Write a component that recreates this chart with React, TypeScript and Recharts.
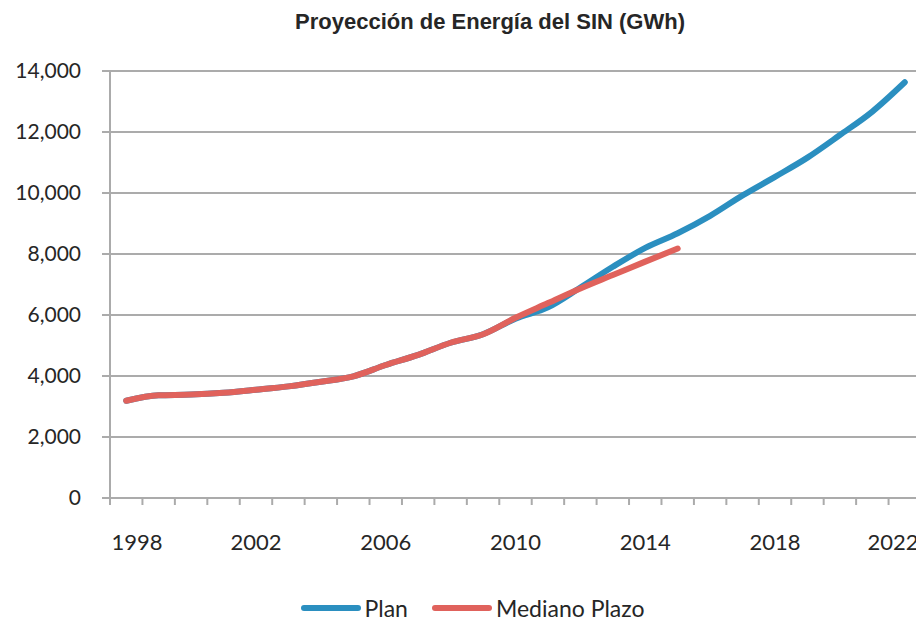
import React from "react";
import {
  LineChart,
  Line,
  XAxis,
  YAxis,
  CartesianGrid,
  Legend
} from "recharts";

const years = [
  1998, 1999, 2000, 2001, 2002, 2003, 2004, 2005, 2006, 2007, 2008, 2009, 2010,
  2011, 2012, 2013, 2014, 2015, 2016, 2017, 2018, 2019, 2020, 2021, 2022
];

const plan = [
  3190, 3370, 3390, 3450, 3550, 3660, 3810, 3990, 4360, 4690, 5090, 5370, 5880,
  6250, 6900, 7580, 8200, 8680, 9250, 9920, 10530, 11160, 11900, 12670, 13630
];

const medianoPlazo = [
  3190, 3370, 3390, 3450, 3550, 3660, 3810, 3990, 4360, 4690, 5090, 5370, 5910,
  6390, 6870, 7310, 7750, 8180
];

const labelYears = [1998, 2002, 2006, 2010, 2014, 2018, 2022];
const yTicks = [0, 2000, 4000, 6000, 8000, 10000, 12000, 14000];

const BLUE = "#2b8fc0";
const RED = "#e0625c";
const GRID = "#ababab";
const TEXT = "#262626";

const data = years.map((year, i) => ({
  year,
  plan: plan[i],
  mediano: i < medianoPlazo.length ? medianoPlazo[i] : null
}));

// tick marks sit between categories, like the original category axis
const boundaries = [...years.map((y) => y - 0.5), years[years.length - 1] + 0.5];
const xTicks = [...boundaries, ...labelYears];

// plot edges in chart coords; labels are kept inside them
const PLOT_LEFT = 102;
const PLOT_RIGHT = 913;

function XTick(props: any) {
  const { x, y, payload } = props;
  const v = payload.value;
  if (labelYears.includes(v)) {
    const cx = Math.max(PLOT_LEFT + 27, Math.min(PLOT_RIGHT - 28, x));
    return (
      <text x={cx} y={y + 52} textAnchor="middle" fill={TEXT} fontSize={22} fontFamily="Lato">
        {v}
      </text>
    );
  }
  return <line x1={x} x2={x} y1={y} y2={y + 7} stroke={GRID} strokeWidth={2} />;
}

function LegendContent() {
  const items = [
    { name: "Plan", color: BLUE },
    { name: "Mediano Plazo", color: RED }
  ];
  return (
    <div
      style={{
        display: "flex",
        justifyContent: "center",
        alignItems: "center",
        height: 28,
        lineHeight: "28px",
        paddingLeft: 40,
        fontFamily: "Lato",
        fontSize: 23,
        color: TEXT
      }}
    >
      {items.map((it) => (
        <div key={it.name} style={{ display: "flex", alignItems: "center", marginRight: 24 }}>
          <svg width={60} height={8} style={{ marginRight: 4 }}>
            <line x1={3} x2={57} y1={4} y2={4} stroke={it.color} strokeWidth={6} strokeLinecap="round" />
          </svg>
          <span>{it.name}</span>
        </div>
      ))}
    </div>
  );
}

export default function App() {
  return (
    <div style={{ position: "relative", width: 916, height: 614 }}>
      <div
        style={{
          position: "absolute",
          top: 1,
          left: 482,
          transform: "translateX(-50%)",
          whiteSpace: "nowrap",
          fontFamily: "Liberation Sans",
          fontWeight: "bold",
          fontSize: 22,
          color: TEXT
        }}
      >
        Proyección de Energía del SIN (GWh)
      </div>
      <LineChart
        width={916}
        height={614}
        data={data}
        margin={{ top: 63, right: 3, left: 0, bottom: 0 }}
      >
        <CartesianGrid horizontal vertical={false} stroke={GRID} strokeWidth={2} />
        <XAxis
          dataKey="year"
          type="number"
          domain={[1997.5, 2022.5]}
          ticks={xTicks}
          interval={0}
          tick={<XTick />}
          tickLine={false}
          tickSize={0}
          tickMargin={0}
          axisLine={{ stroke: GRID, strokeWidth: 2 }}
          height={96}
        />
        <YAxis
          domain={[0, 14000]}
          ticks={yTicks}
          interval={0}
          width={102}
          tickFormatter={(v: number) => v.toLocaleString("en-US")}
          tick={{ fill: TEXT, fontSize: 21, fontFamily: "Lato" }}
          tickSize={8}
          tickMargin={21}
          tickLine={{ stroke: GRID, strokeWidth: 2 }}
          axisLine={{ stroke: GRID, strokeWidth: 2 }}
        />
        <Legend verticalAlign="bottom" content={<LegendContent />} />
        <Line
          type="monotone"
          dataKey="plan"
          stroke={BLUE}
          strokeWidth={6}
          strokeLinecap="round"
          dot={false}
          isAnimationActive={false}
        />
        <Line
          type="monotone"
          dataKey="mediano"
          stroke={RED}
          strokeWidth={6}
          strokeLinecap="round"
          dot={false}
          isAnimationActive={false}
        />
      </LineChart>
    </div>
  );
}
